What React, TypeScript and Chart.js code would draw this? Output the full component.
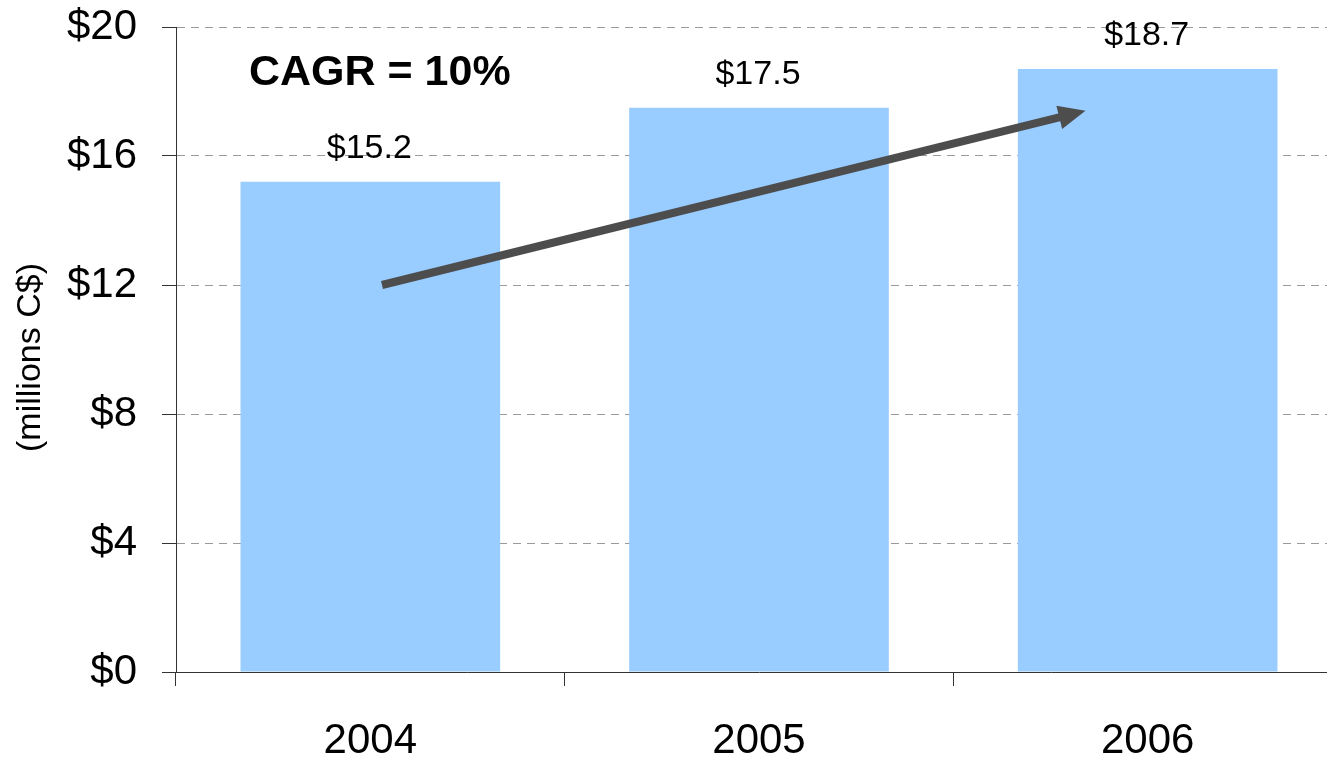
import React, { useEffect, useRef } from "react";
import { Chart, registerables } from "chart.js";

Chart.register(...registerables);

const categories = ["2004", "2005", "2006"];
const revenue = [15.2, 17.5, 18.7];
const valueLabels = ["$15.2", "$17.5", "$18.7"];
const yMin = 0;
const yMax = 20;
const yStep = 4;
const yTitle = "(millions C$)";
const cagrLabel = "CAGR = 10%";
// arrow endpoints in data units: [category index, value]
const arrowFrom = [0.03, 12];
const arrowTo = [1.84, 17.4];

const FONT = "'Liberation Sans', Arial, Helvetica, sans-serif";

const overlayPlugin = {
  id: "overlay",
  afterDatasetsDraw(chart: any) {
    const { ctx, chartArea, scales } = chart;
    const xs = scales.x;
    const ys = scales.y;
    ctx.save();
    // value labels
    const meta = chart.getDatasetMeta(0);
    ctx.fillStyle = "#000";
    ctx.font = `34px ${FONT}`;
    ctx.textAlign = "center";
    ctx.textBaseline = "alphabetic";
    meta.data.forEach((bar: any, i: number) => {
      ctx.fillText(valueLabels[i], bar.x - 1, bar.y - 24);
    });
    // CAGR label
    ctx.font = `bold 43px ${FONT}`;
    ctx.textAlign = "left";
    ctx.fillText(cagrLabel, chartArea.left + 73, chartArea.top + 58);
    // arrow
    const x1 = xs.getPixelForValue(arrowFrom[0]);
    const y1 = ys.getPixelForValue(arrowFrom[1]);
    const x2 = xs.getPixelForValue(arrowTo[0]);
    const y2 = ys.getPixelForValue(arrowTo[1]);
    const ang = Math.atan2(y2 - y1, x2 - x1);
    const headLen = 27;
    const headHalf = 12;
    const bx = x2 - headLen * Math.cos(ang);
    const by = y2 - headLen * Math.sin(ang);
    ctx.strokeStyle = "#4d4d4d";
    ctx.fillStyle = "#4d4d4d";
    ctx.lineWidth = 8;
    ctx.lineCap = "butt";
    ctx.beginPath();
    ctx.moveTo(x1, y1);
    ctx.lineTo(bx + 2 * Math.cos(ang), by + 2 * Math.sin(ang));
    ctx.stroke();
    ctx.beginPath();
    ctx.moveTo(x2, y2);
    ctx.lineTo(bx + headHalf * Math.sin(ang), by - headHalf * Math.cos(ang));
    ctx.lineTo(bx - headHalf * Math.sin(ang), by + headHalf * Math.cos(ang));
    ctx.closePath();
    ctx.fill();
    // y axis title
    ctx.save();
    ctx.translate(31, (chartArea.top + chartArea.bottom) / 2 + 8);
    ctx.rotate(-Math.PI / 2);
    ctx.font = `34px ${FONT}`;
    ctx.fillStyle = "#000";
    ctx.textAlign = "center";
    ctx.textBaseline = "middle";
    ctx.fillText(yTitle, 0, 0);
    ctx.restore();
    ctx.restore();
  },
};

export default function App() {
  const ref = useRef<HTMLCanvasElement>(null);
  useEffect(() => {
    if (!ref.current) return;
    const chart = new Chart(ref.current, {
      type: "bar",
      data: {
        labels: categories,
        datasets: [
          {
            data: revenue,
            backgroundColor: "#99CCFF",
            borderWidth: 0,
            categoryPercentage: 1,
            barPercentage: 0.668,
          },
        ],
      },
      options: {
        responsive: false,
        animation: false,
        devicePixelRatio: 1,
        layout: { padding: { top: 27, right: 8, left: 0, bottom: 0 } },
        plugins: { legend: { display: false }, tooltip: { enabled: false } },
        scales: {
          x: {
            afterFit: (s: any) => {
              s.height = 87;
              s.paddingLeft = 0;
              s.paddingRight = 0;
            },
            grid: {
              display: true,
              offset: true,
              drawOnChartArea: false,
              drawTicks: true,
              tickLength: 14,
              tickColor: "#333",
              tickWidth: 1,
              color: "#333",
            },
            border: { display: true, color: "#333", width: 1 },
            ticks: {
              color: "#000",
              font: { family: FONT, size: 42 },
              padding: 30,
              maxRotation: 0,
            },
          },
          y: {
            min: yMin,
            max: yMax,
            afterFit: (s: any) => {
              s.width = 176;
              s.paddingTop = 0;
              s.paddingBottom = 0;
            },
            grid: {
              display: true,
              color: (c: any) => (c.tick && c.tick.value === 0 ? "rgba(0,0,0,0)" : "#9a9a9a"),
              drawTicks: true,
              tickLength: 14,
              tickColor: "#333",
              tickBorderDash: [],
              tickWidth: 1,
              lineWidth: 1,
            } as any,
            border: { display: true, color: "#333", width: 1, dash: [8, 6] },
            ticks: {
              stepSize: yStep,
              color: "#000",
              padding: 25,
              font: { family: FONT, size: 42 },
              callback: (v: any) => `$${v}`,
            },
          },
        },
      },
      plugins: [overlayPlugin],
    });
    return () => chart.destroy();
  }, []);
  return (
    <div
      style={{
        position: "fixed",
        left: 0,
        top: 0,
        width: 1327,
        height: 759,
        overflow: "hidden",
        background: "#fff",
      }}
    >
      <canvas ref={ref} width={1350} height={759} style={{ display: "block" }} />
    </div>
  );
}
